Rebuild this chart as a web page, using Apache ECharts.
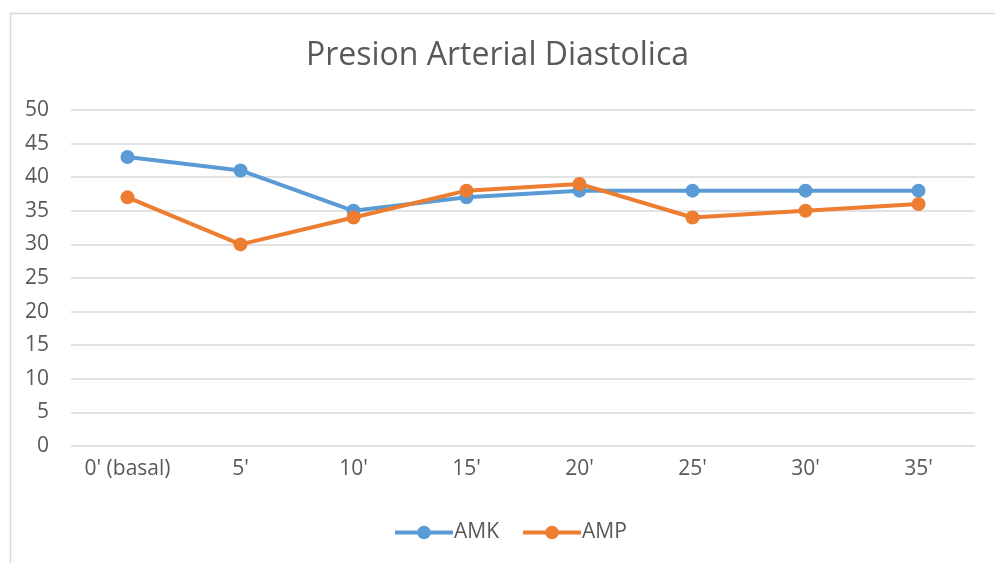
<!DOCTYPE html>
<html>
<head>
<meta charset="utf-8">
<script src="https://cdn.jsdelivr.net/npm/echarts@6/dist/echarts.min.js"></script>
<style>html,body{margin:0;padding:0;background:#fff}#c{width:995px;height:563px}</style>
</head>
<body>
<div id="c"></div>
<script>
const categories = ["0' (basal)", "5'", "10'", "15'", "20'", "25'", "30'", "35'"];
const amk = [43, 41, 35, 37, 38, 38, 38, 38];
const amp = [37, 30, 34, 38, 39, 34, 35, 36];
const chart = echarts.init(document.getElementById('c'));
const font = 'Open Sans';
chart.setOption({
  animation: false,
  backgroundColor: '#fff',
  graphic: [{
    type: 'rect', left: 8, top: 11, z: -1,
    shape: { width: 1100, height: 700 },
    style: { fill: 'none', stroke: '#d9d9d9', lineWidth: 1.5 }
  }],
  title: {
    text: 'Presion Arterial Diastolica',
    left: 'center', top: 35,
    textStyle: { fontFamily: font, fontSize: 32, fontWeight: 'normal', color: '#595959' }
  },
  legend: {
    bottom: 15, left: 388,
    itemWidth: 58, itemHeight: 17, itemGap: 22,
    lineStyle: { width: 4 },
    textStyle: { fontFamily: font, fontSize: 21, color: '#595959', padding: [0, 0, 0, -4] },
    data: ['AMK', 'AMP']
  },
  grid: { left: 71, right: 20, top: 110, bottom: 117, containLabel: false },
  xAxis: {
    type: 'category', data: categories, boundaryGap: true,
    axisLine: { show: false }, axisTick: { show: false },
    axisLabel: { fontFamily: font, fontSize: 21, color: '#595959', margin: 13 }
  },
  yAxis: {
    type: 'value', min: 0, max: 50, interval: 5,
    axisLine: { show: false }, axisTick: { show: false },
    splitLine: { lineStyle: { color: '#d9d9d9', width: 1.5 } },
    axisLabel: { fontFamily: font, fontSize: 21, color: '#595959', margin: 22 }
  },
  series: [
    { name: 'AMK', type: 'line', data: amk, symbol: 'circle', symbolSize: 14,
      lineStyle: { width: 4, color: '#5B9BD5' }, itemStyle: { color: '#5B9BD5' } },
    { name: 'AMP', type: 'line', data: amp, symbol: 'circle', symbolSize: 14,
      lineStyle: { width: 4, color: '#ED7D31' }, itemStyle: { color: '#ED7D31' } }
  ]
});
</script>
</body>
</html>
